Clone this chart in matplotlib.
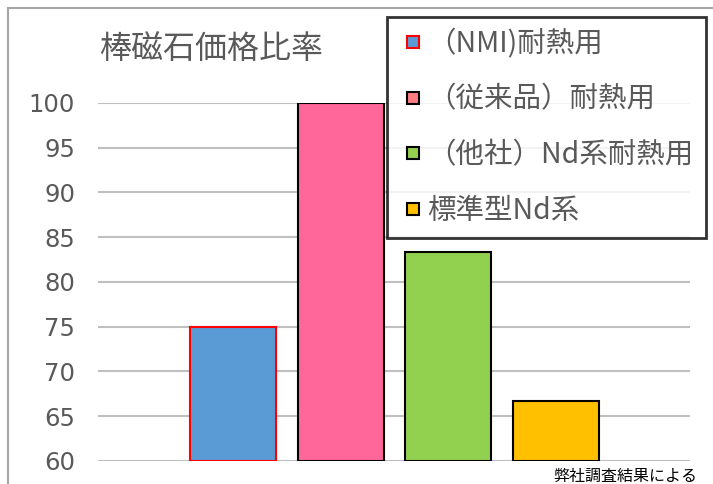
import matplotlib.pyplot as plt
from matplotlib.lines import Line2D
from matplotlib.patches import Rectangle

plt.rcParams['font.family'] = ['Noto Sans CJK JP', 'DejaVu Sans']

title = "棒磁石価格比率"
labels = ["（NMI)耐熱用", "（従来品）耐熱用", "（他社）Nd系耐熱用", "標準型Nd系"]
values = [75, 100, 83.3, 66.7]
bar_colors = ["#5B9BD5", "#FF6699", "#92D050", "#FFC000"]
edge_colors = ["#FF0000", "#000000", "#000000", "#000000"]
legend_colors = ["#5B9BD5", "#FF7C80", "#92D050", "#FFC000"]
yticks = [60, 65, 70, 75, 80, 85, 90, 95, 100]
note = "弊社調査結果による"

gray = "#595959"

fig = plt.figure(figsize=(7.13, 4.84), dpi=100)
ax = fig.add_axes([98/713, 23/484, 592/713, 358/484])

# outer chart frame
fig.patches.append(Rectangle((8/713, -0.1), 1.1, (484-8)/484 + 0.1, transform=fig.transFigure,
                             fill=False, edgecolor="#A6A6A6", linewidth=1.5))

for i, v in enumerate(values):
    ax.bar(i, v - 60, bottom=60, width=0.8, color=bar_colors[i],
           edgecolor=edge_colors[i], linewidth=1.5, zorder=3)

ax.set_ylim(60, 100)
ax.set_xlim(-1.256, 4.25)
ax.set_yticks(yticks)
ax.set_xticks([])
ax.yaxis.grid(True, color="#BFBFBF", linewidth=1.5, zorder=0)
ax.tick_params(axis='y', length=0, pad=16.5, labelsize=17.5, labelcolor=gray)
for t in ax.get_yticklabels():
    t.set_family('DejaVu Sans')
for s in ax.spines.values():
    s.set_visible(False)

fig.text(211/713, 1 - 50/484, title, ha='center', va='center', fontsize=23, color=gray)

handles = [Line2D([], [], linestyle='none', marker='s', markersize=9,
                  markerfacecolor=legend_colors[i], markeredgecolor=edge_colors[i],
                  markeredgewidth=1.5) for i in range(4)]
leg = fig.legend(handles, labels, loc='upper left', bbox_to_anchor=(387/713, 1 - 17/484),
                 fontsize=20.5, frameon=True, fancybox=False, handlelength=1.0,
                 handletextpad=0.0, labelspacing=0.9, borderpad=0.42, borderaxespad=0)
leg.get_frame().set_edgecolor("black")
leg.get_frame().set_linewidth(2)
for t in leg.get_texts():
    t.set_color(gray)

fig.text(697/713, 1 - 476/484, note, ha='right', va='center', fontsize=11.5, color="black")

fig.savefig("out.png", dpi=100)
